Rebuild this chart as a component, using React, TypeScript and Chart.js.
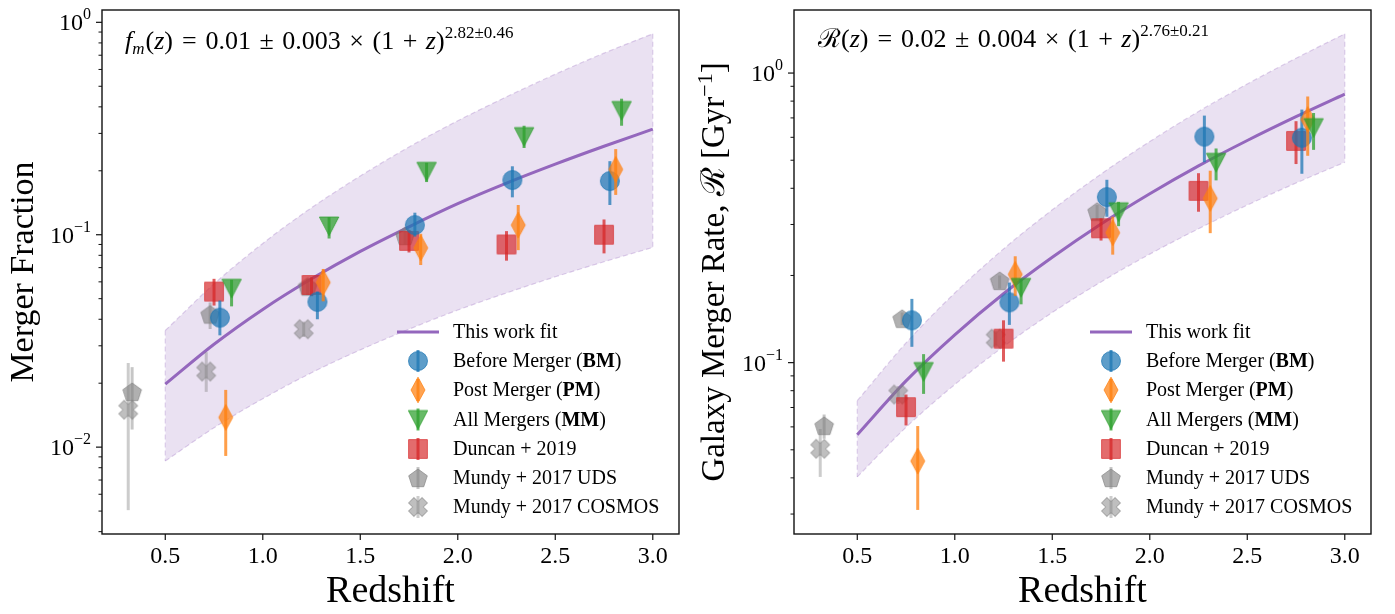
import React, { useEffect, useRef } from "react";
import { Chart, registerables } from "chart.js";

Chart.register(...registerables);

const SERIF = '"Liberation Serif", "DejaVu Serif", "Times New Roman", serif';

// ---------- shared axis data ----------
const X_TICKS = [0.5, 1.0, 1.5, 2.0, 2.5, 3.0];
const X_TICK_LABELS = ["0.5", "1.0", "1.5", "2.0", "2.5", "3.0"];
const FIT_Z = [0.5, 0.75, 1.0, 1.25, 1.5, 1.75, 2.0, 2.25, 2.5, 2.75, 3.0];

const BM_Z = [0.78, 1.28, 1.78, 2.28, 2.78];
const PM_Z = [0.81, 1.31, 1.81, 2.31, 2.81];
const MM_Z = [0.84, 1.34, 1.84, 2.34, 2.84];
const DUNCAN_Z = [0.75, 1.25, 1.75, 2.25, 2.75];
const UDS_Z = [0.33, 0.73, 1.23, 1.73];
const COSMOS_Z = [0.31, 0.71, 1.21];

// ---------- left panel: merger fraction ----------
const FM_Y_TICKS = [0.01, 0.1, 1];
const FM_Y_TICK_EXP = ["−2", "−1", "0"];
const FM_FIT = [0.0198, 0.0305, 0.0445, 0.062, 0.0835, 0.109, 0.14, 0.175, 0.215, 0.261, 0.314];
const FM_BAND_HI = [0.0354, 0.0587, 0.091, 0.134, 0.189, 0.259, 0.344, 0.446, 0.57, 0.716, 0.883];
const FM_BAND_LO = [0.0086, 0.01234, 0.0169, 0.0224, 0.0287, 0.0359, 0.0442, 0.0532, 0.0634, 0.0746, 0.0871];

const FM_BM = [0.0407, 0.0483, 0.111, 0.181, 0.179];
const FM_BM_LO = [0.0336, 0.04, 0.098, 0.15, 0.138];
const FM_BM_HI = [0.049, 0.054, 0.127, 0.21, 0.222];
const FM_PM = [0.0138, 0.0596, 0.0867, 0.111, 0.203];
const FM_PM_LO = [0.00909, 0.0486, 0.072, 0.0846, 0.154];
const FM_PM_HI = [0.0186, 0.069, 0.101, 0.138, 0.253];
const FM_MM = [0.056, 0.11, 0.199, 0.29, 0.385];
const FM_MM_LO = [0.046, 0.096, 0.177, 0.256, 0.326];
const FM_MM_HI = [0.0613, 0.121, 0.218, 0.326, 0.437];
const FM_DUNCAN = [0.054, 0.058, 0.0935, 0.09, 0.1];
const FM_DUNCAN_LO = [0.0464, 0.0514, 0.0825, 0.0755, 0.0817];
const FM_DUNCAN_HI = [0.062, 0.063, 0.105, 0.104, 0.118];
const FM_UDS = [0.0182, 0.0421, 0.057, 0.0986];
const FM_UDS_LO = [0.0121, 0.036, 0.052, 0.09];
const FM_UDS_HI = [0.0238, 0.048, 0.062, 0.107];
const FM_COSMOS = [0.015, 0.0227, 0.0359];
const FM_COSMOS_LO = [0.00505, 0.0182, 0.033];
const FM_COSMOS_HI = [0.0249, 0.028, 0.039];

// ---------- right panel: merger rate ----------
const MR_Y_TICKS = [0.1, 1];
const MR_Y_TICK_EXP = ["−1", "0"];
const MR_FIT = [0.0564, 0.0865, 0.1248, 0.173, 0.231, 0.301, 0.383, 0.478, 0.585, 0.707, 0.846];
const MR_BAND_HI = [0.0739, 0.117, 0.174, 0.247, 0.337, 0.448, 0.58, 0.737, 0.917, 1.125, 1.366];
const MR_BAND_LO = [0.0403, 0.0598, 0.084, 0.1136, 0.149, 0.19, 0.237, 0.29, 0.35, 0.417, 0.492];

const MR_BM = [0.14, 0.1615, 0.373, 0.603, 0.598];
const MR_BM_LO = [0.1134, 0.135, 0.319, 0.492, 0.449];
const MR_BM_HI = [0.166, 0.189, 0.428, 0.713, 0.748];
const MR_PM = [0.0457, 0.2018, 0.281, 0.369, 0.691];
const MR_PM_LO = [0.031, 0.17, 0.236, 0.28, 0.518];
const MR_PM_HI = [0.0604, 0.233, 0.319, 0.46, 0.83];
const MR_MM = [0.0932, 0.182, 0.332, 0.492, 0.648];
const MR_MM_LO = [0.078, 0.159, 0.296, 0.426, 0.543];
const MR_MM_HI = [0.107, 0.194, 0.359, 0.549, 0.728];
const MR_DUNCAN = [0.0702, 0.121, 0.291, 0.392, 0.583];
const MR_DUNCAN_LO = [0.0607, 0.1008, 0.264, 0.332, 0.485];
const MR_DUNCAN_HI = [0.0776, 0.14, 0.315, 0.451, 0.682];
const MR_UDS = [0.0605, 0.1417, 0.1915, 0.332];
const MR_UDS_LO = [0.0546, 0.135, 0.18, 0.31];
const MR_UDS_HI = [0.0662, 0.149, 0.2, 0.35];
const MR_COSMOS = [0.0504, 0.0776, 0.121];
const MR_COSMOS_LO = [0.0403, 0.072, 0.113];
const MR_COSMOS_HI = [0.059, 0.083, 0.129];

// ---------- legend ----------
type Seg = { t: string; size?: number; italic?: boolean; bold?: boolean; dy?: number; gap?: number };
const LEGEND_FIT_LABEL: Seg[] = [{ t: "This work fit" }];
const LEGEND_BM_LABEL: Seg[] = [{ t: "Before Merger (" }, { t: "BM", bold: true }, { t: ")" }];
const LEGEND_PM_LABEL: Seg[] = [{ t: "Post Merger (" }, { t: "PM", bold: true }, { t: ")" }];
const LEGEND_MM_LABEL: Seg[] = [{ t: "All Mergers (" }, { t: "MM", bold: true }, { t: ")" }];
const LEGEND_DUNCAN_LABEL: Seg[] = [{ t: "Duncan + 2019" }];
const LEGEND_UDS_LABEL: Seg[] = [{ t: "Mundy + 2017 UDS" }];
const LEGEND_COSMOS_LABEL: Seg[] = [{ t: "Mundy + 2017 COSMOS" }];

const C_BM = "31,119,180";
const C_PM = "255,127,14";
const C_MM = "44,160,44";
const C_DUNCAN = "214,39,40";
const C_GRAY = "128,128,128";
const C_FIT = "148,103,189";

function makeMarker(shape: string, rgb: string, alpha: number): HTMLCanvasElement {
  const S = 30;
  const c = document.createElement("canvas");
  c.width = S;
  c.height = S;
  const ctx = c.getContext("2d")!;
  ctx.translate(S / 2, S / 2);
  ctx.beginPath();
  if (shape === "circle") {
    ctx.arc(0, 0, 9.5, 0, Math.PI * 2);
  } else if (shape === "thinDiamond") {
    ctx.moveTo(0, -12.8);
    ctx.lineTo(7, 0);
    ctx.lineTo(0, 12.8);
    ctx.lineTo(-7, 0);
    ctx.closePath();
  } else if (shape === "triDown") {
    ctx.moveTo(-9.7, -9);
    ctx.lineTo(9.7, -9);
    ctx.lineTo(0, 9.7);
    ctx.closePath();
  } else if (shape === "square") {
    ctx.rect(-9.4, -9.4, 18.8, 18.8);
  } else if (shape === "pentagon") {
    const r = 9.8;
    for (let i = 0; i < 5; i++) {
      const a = -Math.PI / 2 + (i * 2 * Math.PI) / 5;
      const px = r * Math.cos(a);
      const py = r * Math.sin(a) + 0.8;
      if (i === 0) ctx.moveTo(px, py);
      else ctx.lineTo(px, py);
    }
    ctx.closePath();
  } else if (shape === "xFilled") {
    ctx.rotate(Math.PI / 4);
    const L = 9.6, a = 3.8;
    const pts = [[-a, -L], [a, -L], [a, -a], [L, -a], [L, a], [a, a], [a, L], [-a, L], [-a, a], [-L, a], [-L, -a], [-a, -a]];
    pts.forEach((p, i) => (i === 0 ? ctx.moveTo(p[0], p[1]) : ctx.lineTo(p[0], p[1])));
    ctx.closePath();
  }
  ctx.globalAlpha = alpha;
  ctx.fillStyle = `rgb(${rgb})`;
  ctx.fill();
  ctx.lineWidth = 1;
  ctx.strokeStyle = `rgb(${rgb})`;
  ctx.stroke();
  return c;
}

function setFont(ctx: CanvasRenderingContext2D, s: Seg, base: number) {
  ctx.font = `${s.italic ? "italic " : ""}${s.bold ? "bold " : ""}${s.size ?? base}px ${SERIF}`;
}
function segWidth(ctx: CanvasRenderingContext2D, s: Seg, base: number) {
  if (s.gap !== undefined) return s.gap;
  setFont(ctx, s, base);
  return ctx.measureText(s.t).width;
}
function richWidth(ctx: CanvasRenderingContext2D, segs: Seg[], base: number) {
  let w = 0;
  for (const s of segs) w += segWidth(ctx, s, base);
  return w;
}
function drawRich(ctx: CanvasRenderingContext2D, x: number, y: number, segs: Seg[], base: number) {
  let cx = x;
  for (const s of segs) {
    if (s.gap === undefined) {
      setFont(ctx, s, base);
      ctx.fillText(s.t, cx, y + (s.dy ?? 0));
    }
    cx += segWidth(ctx, s, base);
  }
  return cx;
}

type Series = {
  label: Seg[];
  z: number[];
  v: number[];
  lo: number[];
  hi: number[];
  shape: string;
  rgb: string;
  alpha: number;
  errAlpha: number;
};

type PanelCfg = {
  yMin: number;
  yMax: number;
  yTicks: number[];
  yTickExp: string[];
  fit: number[];
  bandHi: number[];
  bandLo: number[];
  series: Series[];
  yTitle: Seg[];
  yTitleSize: number;
  yTitleX: number;
  formula: Seg[];
  formulaX: number;
  formulaY: number;
  legendX: number;
  canvasW: number;
  yAxisW: number;
  rightPad: number;
};

const X_MIN = 0.1755;
const X_MAX = 3.1345;

function buildSeries(
  bm: number[][], pm: number[][], mm: number[][], du: number[][], uds: number[][], cos: number[][]
): Series[] {
  return [
    { label: LEGEND_BM_LABEL, z: BM_Z, v: bm[0], lo: bm[1], hi: bm[2], shape: "circle", rgb: C_BM, alpha: 0.72, errAlpha: 0.75 },
    { label: LEGEND_PM_LABEL, z: PM_Z, v: pm[0], lo: pm[1], hi: pm[2], shape: "thinDiamond", rgb: C_PM, alpha: 0.72, errAlpha: 0.75 },
    { label: LEGEND_MM_LABEL, z: MM_Z, v: mm[0], lo: mm[1], hi: mm[2], shape: "triDown", rgb: C_MM, alpha: 0.72, errAlpha: 0.75 },
    { label: LEGEND_DUNCAN_LABEL, z: DUNCAN_Z, v: du[0], lo: du[1], hi: du[2], shape: "square", rgb: C_DUNCAN, alpha: 0.68, errAlpha: 0.75 },
    { label: LEGEND_UDS_LABEL, z: UDS_Z, v: uds[0], lo: uds[1], hi: uds[2], shape: "pentagon", rgb: C_GRAY, alpha: 0.62, errAlpha: 0.45 },
    { label: LEGEND_COSMOS_LABEL, z: COSMOS_Z, v: cos[0], lo: cos[1], hi: cos[2], shape: "xFilled", rgb: C_GRAY, alpha: 0.5, errAlpha: 0.4 },
  ];
}

const G_REL = 9;
const G_BIN = 8.5;

const LEFT_CFG: PanelCfg = {
  yMin: 0.0039,
  yMax: 1.143,
  yTicks: FM_Y_TICKS,
  yTickExp: FM_Y_TICK_EXP,
  fit: FM_FIT,
  bandHi: FM_BAND_HI,
  bandLo: FM_BAND_LO,
  series: buildSeries(
    [FM_BM, FM_BM_LO, FM_BM_HI],
    [FM_PM, FM_PM_LO, FM_PM_HI],
    [FM_MM, FM_MM_LO, FM_MM_HI],
    [FM_DUNCAN, FM_DUNCAN_LO, FM_DUNCAN_HI],
    [FM_UDS, FM_UDS_LO, FM_UDS_HI],
    [FM_COSMOS, FM_COSMOS_LO, FM_COSMOS_HI]
  ),
  yTitle: [{ t: "Merger Fraction" }],
  yTitleSize: 34,
  yTitleX: 33,
  formula: [
    { t: "f", italic: true },
    { t: "m", italic: true, size: 17, dy: 5 },
    { gap: 1, t: "" },
    { t: "(" },
    { t: "z", italic: true },
    { t: ")" },
    { gap: G_REL, t: "" },
    { t: "=" },
    { gap: G_REL, t: "" },
    { t: "0.01" },
    { gap: G_BIN, t: "" },
    { t: "±" },
    { gap: G_BIN, t: "" },
    { t: "0.003" },
    { gap: G_BIN, t: "" },
    { t: "×" },
    { gap: G_BIN, t: "" },
    { t: "(1" },
    { gap: G_BIN, t: "" },
    { t: "+" },
    { gap: G_BIN, t: "" },
    { t: "z", italic: true },
    { t: ")" },
    { t: "2.82±0.46", size: 17, dy: -11 },
  ],
  formulaX: 125,
  formulaY: 49,
  legendX: 397,
  canvasW: 690,
  yAxisW: 102,
  rightPad: 11,
};

const RIGHT_CFG: PanelCfg = {
  yMin: 0.0256,
  yMax: 1.651,
  yTicks: MR_Y_TICKS,
  yTickExp: MR_Y_TICK_EXP,
  fit: MR_FIT,
  bandHi: MR_BAND_HI,
  bandLo: MR_BAND_LO,
  series: buildSeries(
    [MR_BM, MR_BM_LO, MR_BM_HI],
    [MR_PM, MR_PM_LO, MR_PM_HI],
    [MR_MM, MR_MM_LO, MR_MM_HI],
    [MR_DUNCAN, MR_DUNCAN_LO, MR_DUNCAN_HI],
    [MR_UDS, MR_UDS_LO, MR_UDS_HI],
    [MR_COSMOS, MR_COSMOS_LO, MR_COSMOS_HI]
  ),
  yTitle: [{ t: "Galaxy Merger Rate, " }, { t: "ℛ" }, { t: " [Gyr" }, { t: "−1", size: 22, dy: -12 }, { t: "]" }],
  yTitleSize: 33,
  yTitleX: 34,
  formula: [
    { t: "ℛ" },
    { t: "(" },
    { t: "z", italic: true },
    { t: ")" },
    { gap: G_REL, t: "" },
    { t: "=" },
    { gap: G_REL, t: "" },
    { t: "0.02" },
    { gap: G_BIN, t: "" },
    { t: "±" },
    { gap: G_BIN, t: "" },
    { t: "0.004" },
    { gap: G_BIN, t: "" },
    { t: "×" },
    { gap: G_BIN, t: "" },
    { t: "(1" },
    { gap: G_BIN, t: "" },
    { t: "+" },
    { gap: G_BIN, t: "" },
    { t: "z", italic: true },
    { t: ")" },
    { t: "2.76±0.21", size: 17, dy: -11 },
  ],
  formulaX: 128,
  formulaY: 47,
  legendX: 400,
  canvasW: 705,
  yAxisW: 104,
  rightPad: 24,
};

const CANVAS_H = 614;

function Panel({ cfg, left }: { cfg: PanelCfg; left: number }) {
  const ref = useRef<HTMLCanvasElement | null>(null);

  useEffect(() => {
    const canvas = ref.current!;
    const markers = cfg.series.map((s) => makeMarker(s.shape, s.rgb, s.alpha));
    const pointOrder = [3, 2, 1, 4, 6, 5]; // smaller -> on top

    const datasets: any[] = cfg.series.map((s, i) => ({
      label: s.label.map((p) => p.t).join(""),
      data: s.z.map((z, j) => ({ x: z, y: s.v[j] })),
      errLo: s.lo,
      errHi: s.hi,
      errColor: `rgba(${s.rgb},${s.errAlpha})`,
      showLine: false,
      pointStyle: markers[i],
      pointRadius: 9,
      order: pointOrder[i],
    }));
    datasets.push({
      label: "fit",
      data: FIT_Z.map((z, j) => ({ x: z, y: cfg.fit[j] })),
      borderColor: `rgb(${C_FIT})`,
      borderWidth: 3,
      pointRadius: 0,
      cubicInterpolationMode: "monotone",
      fill: false,
      order: 7,
    });
    datasets.push({
      label: "band-hi",
      data: FIT_Z.map((z, j) => ({ x: z, y: cfg.bandHi[j] })),
      borderColor: `rgba(${C_FIT},0.3)`,
      borderWidth: 1.2,
      borderDash: [5, 3],
      pointRadius: 0,
      cubicInterpolationMode: "monotone",
      fill: "+1",
      backgroundColor: `rgba(${C_FIT},0.2)`,
      order: 8,
    });
    datasets.push({
      label: "band-lo",
      data: FIT_Z.map((z, j) => ({ x: z, y: cfg.bandLo[j] })),
      borderColor: `rgba(${C_FIT},0.3)`,
      borderWidth: 1.2,
      borderDash: [5, 3],
      pointRadius: 0,
      cubicInterpolationMode: "monotone",
      fill: false,
      order: 9,
    });

    const errorBars = {
      id: "errorBars",
      beforeDatasetDraw(chart: any, args: any) {
        const ds = chart.data.datasets[args.index];
        if (!ds.errLo) return;
        const xs = chart.scales.x, ys = chart.scales.y;
        const ctx = chart.ctx;
        ctx.save();
        ctx.strokeStyle = ds.errColor;
        ctx.lineWidth = 3;
        ds.data.forEach((p: any, j: number) => {
          const px = xs.getPixelForValue(p.x);
          ctx.beginPath();
          ctx.moveTo(px, ys.getPixelForValue(ds.errHi[j]));
          ctx.lineTo(px, ys.getPixelForValue(ds.errLo[j]));
          ctx.stroke();
        });
        ctx.restore();
      },
      afterDatasetsDraw(chart: any) {
        // vertical dashed edges of the band
        const xs = chart.scales.x, ys = chart.scales.y;
        const ctx = chart.ctx;
        ctx.save();
        ctx.strokeStyle = `rgba(${C_FIT},0.3)`;
        ctx.lineWidth = 1.2;
        ctx.setLineDash([5, 3]);
        [0, FIT_Z.length - 1].forEach((j) => {
          const px = xs.getPixelForValue(FIT_Z[j]);
          ctx.beginPath();
          ctx.moveTo(px, ys.getPixelForValue(cfg.bandHi[j]));
          ctx.lineTo(px, ys.getPixelForValue(cfg.bandLo[j]));
          ctx.stroke();
        });
        ctx.restore();
      },
    };

    const decor = {
      id: "decor",
      afterDraw(chart: any) {
        const ctx: CanvasRenderingContext2D = chart.ctx;
        const a = chart.chartArea;
        const xs = chart.scales.x, ys = chart.scales.y;
        ctx.save();
        ctx.fillStyle = "#000";
        ctx.strokeStyle = "#111";
        // frame
        ctx.lineWidth = 1.4;
        ctx.strokeRect(a.left, a.top, a.right - a.left, a.bottom - a.top);
        // x ticks
        ctx.lineWidth = 1.2;
        ctx.textAlign = "left";
        ctx.textBaseline = "alphabetic";
        X_TICKS.forEach((v, i) => {
          const px = xs.getPixelForValue(v);
          ctx.beginPath();
          ctx.moveTo(px, a.bottom);
          ctx.lineTo(px, a.bottom + 6);
          ctx.stroke();
          ctx.font = `24px ${SERIF}`;
          const w = ctx.measureText(X_TICK_LABELS[i]).width;
          ctx.fillText(X_TICK_LABELS[i], px - w / 2, 563);
        });
        // y ticks (major + minor)
        cfg.yTicks.forEach((major, i) => {
          const py = ys.getPixelForValue(major);
          ctx.lineWidth = 1.2;
          ctx.beginPath();
          ctx.moveTo(a.left - 6, py);
          ctx.lineTo(a.left, py);
          ctx.stroke();
          ctx.font = `16px ${SERIF}`;
          const sw = ctx.measureText(cfg.yTickExp[i]).width;
          ctx.font = `24px ${SERIF}`;
          const bw = ctx.measureText("10").width;
          const right = a.left - 11;
          ctx.fillText("10", right - sw - bw, py + 8);
          ctx.font = `16px ${SERIF}`;
          ctx.fillText(cfg.yTickExp[i], right - sw, py - 3);
          for (let k = 2; k <= 9; k++) {
            for (const m of [major / 10, major]) {
              const v = k * m;
              if (v < cfg.yMin || v > cfg.yMax) continue;
              if (m === major / 10 && i > 0) continue;
              const pm = ys.getPixelForValue(v);
              ctx.lineWidth = 1;
              ctx.beginPath();
              ctx.moveTo(a.left - 3.5, pm);
              ctx.lineTo(a.left, pm);
              ctx.stroke();
            }
          }
        });
        // x title
        ctx.font = `38px ${SERIF}`;
        const tw = ctx.measureText("Redshift").width;
        ctx.fillText("Redshift", (a.left + a.right) / 2 - tw / 2, 602);
        // y title
        ctx.save();
        ctx.translate(cfg.yTitleX, (a.top + a.bottom) / 2);
        ctx.rotate(-Math.PI / 2);
        const yw = richWidth(ctx, cfg.yTitle, cfg.yTitleSize);
        drawRich(ctx, -yw / 2, 0, cfg.yTitle, cfg.yTitleSize);
        ctx.restore();
        // formula
        drawRich(ctx, cfg.formulaX, cfg.formulaY, cfg.formula, 26);
        // legend
        const rows = [332, 361, 390, 419.5, 449, 478, 507];
        const lx = cfg.legendX;
        const mx = lx + 21;
        const tx = lx + 56;
        ctx.strokeStyle = `rgb(${C_FIT})`;
        ctx.lineWidth = 3;
        ctx.beginPath();
        ctx.moveTo(lx, rows[0]);
        ctx.lineTo(lx + 42, rows[0]);
        ctx.stroke();
        ctx.fillStyle = "#000";
        ctx.textBaseline = "middle";
        drawRich(ctx, tx, rows[0] + 1, LEGEND_FIT_LABEL, 20);
        cfg.series.forEach((s, i) => {
          const y = rows[i + 1];
          ctx.strokeStyle = `rgba(${s.rgb},${s.errAlpha})`;
          ctx.lineWidth = 3;
          ctx.beginPath();
          ctx.moveTo(mx, y - 11);
          ctx.lineTo(mx, y + 11);
          ctx.stroke();
          const m = markers[i];
          ctx.drawImage(m, mx - m.width / 2, y - m.height / 2);
          ctx.fillStyle = "#000";
          drawRich(ctx, tx, y + 1, s.label, 20);
        });
        ctx.restore();
      },
    };

    const chart = new Chart(canvas, {
      type: "line",
      data: { datasets },
      options: {
        animation: false,
        responsive: false,
        events: [],
        layout: { padding: { left: 0, right: cfg.rightPad, top: 4, bottom: 0 } },
        plugins: { legend: { display: false }, tooltip: { enabled: false } },
        scales: {
          x: {
            type: "linear",
            min: X_MIN,
            max: X_MAX,
            grid: { display: false, drawTicks: false },
            border: { display: false },
            ticks: { display: false },
            afterFit: (s: any) => {
              s.height = 80;
            },
          },
          y: {
            type: "logarithmic",
            min: cfg.yMin,
            max: cfg.yMax,
            grid: { display: false, drawTicks: false },
            border: { display: false },
            ticks: { display: false },
            afterFit: (s: any) => {
              s.width = cfg.yAxisW;
            },
          },
        },
      } as any,
      plugins: [errorBars, decor],
    });
    return () => chart.destroy();
  }, [cfg]);

  return (
    <canvas
      ref={ref}
      width={cfg.canvasW}
      height={CANVAS_H}
      style={{ position: "absolute", left, top: 0, display: "block" }}
    />
  );
}

export default function App() {
  return (
    <div style={{ position: "absolute", left: 0, top: 0, width: 1395, height: 614, background: "#fff" }}>
      <Panel cfg={LEFT_CFG} left={0} />
      <Panel cfg={RIGHT_CFG} left={690} />
    </div>
  );
}
